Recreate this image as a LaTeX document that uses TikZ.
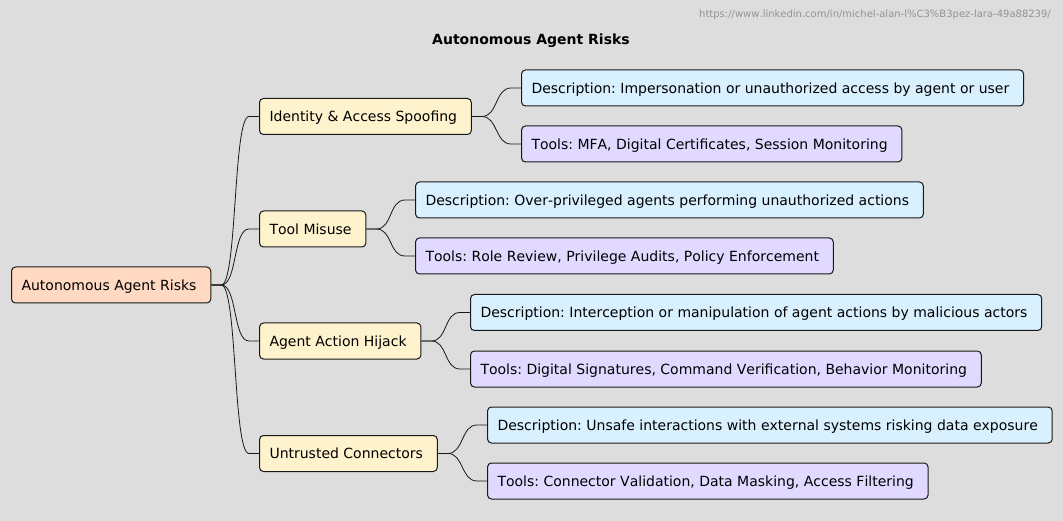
\documentclass[tikz,border=0pt]{standalone}
\usepackage{fontspec}
\setmainfont[Kerning=Off]{DejaVu Sans}
\usetikzlibrary{calc}
\definecolor{bg}{HTML}{DDDDDD}
\definecolor{rootc}{HTML}{FFD9C2}
\definecolor{lonec}{HTML}{FFF3CD}
\definecolor{descc}{HTML}{D9F0FF}
\definecolor{toolc}{HTML}{E1D9FF}
\definecolor{linec}{HTML}{181818}
\tikzset{
  box/.style={draw=linec, line width=1pt, rounded corners=4pt, anchor=west,
    minimum height=36pt, inner xsep=10pt, inner ysep=0pt,
    text height=10.2pt, text depth=0pt,
    font=\fontsize{14}{16}\selectfont\frenchspacing, text=black,
    execute at end node={\hspace{4.3pt}}},
  rootbox/.style={box, fill=rootc},
  lonebox/.style={box, fill=lonec},
  descbox/.style={box, fill=descc},
  toolbox/.style={box, fill=toolc},
  conn/.style={draw=linec, line width=0.8pt},
}
\newcommand{\branch}[2]{%
  \draw[conn] (#1.east) -- ++(10,0) .. controls +(16,0) and ($(#2.west)+(-26,0)$) .. ($(#2.west)+(-10,0)$) -- (#2.west);}
\begin{document}
\begin{tikzpicture}[x=1pt,y=-1pt]
\fill[bg] (0,0) rectangle (1063,521);
\useasboundingbox (0,0) rectangle (1063,521);
\node[anchor=east, text=gray!85, font=\fontsize{10}{12}\selectfont, inner sep=0pt] (url) at (1051,15) {https://www.linkedin.com/in/michel-alan-l\%C3\%B3pez-lara-49a88239/};
\node[font=\fontsize{14}{16}\selectfont\bfseries, inner sep=0pt] (title) at (531,41) {Autonomous Agent Risks};

\node[rootbox] (root) at (11,285) {Autonomous Agent Risks};

\node[lonebox] (b1) at (259,116.5) {Identity \& Access Spoofing};
\node[lonebox] (b2) at (259,229) {Tool Misuse};
\node[lonebox] (b3) at (259,341) {Agent Action Hijack};
\node[lonebox] (b4) at (259,453.5) {Untrusted Connectors};

\node[descbox] (d1) at (521,88) {Description: Impersonation or unauthorized access by agent or user};
\node[toolbox] (t1) at (521,144) {Tools: MFA, Digital Certificates, Session Monitoring};
\node[descbox] (d2) at (415,200) {Description: Over-privileged agents performing unauthorized actions};
\node[toolbox] (t2) at (415,256) {Tools: Role Review, Privilege Audits, Policy Enforcement};
\node[descbox] (d3) at (470,312.5) {Description: Interception or manipulation of agent actions by malicious actors};
\node[toolbox] (t3) at (470,369) {Tools: Digital Signatures, Command Verification, Behavior Monitoring};
\node[descbox] (d4) at (487,425) {Description: Unsafe interactions with external systems risking data exposure};
\node[toolbox] (t4) at (487,481) {Tools: Connector Validation, Data Masking, Access Filtering};

\branch{root}{b1}\branch{root}{b2}\branch{root}{b3}\branch{root}{b4}
\branch{b1}{d1}\branch{b1}{t1}
\branch{b2}{d2}\branch{b2}{t2}
\branch{b3}{d3}\branch{b3}{t3}
\branch{b4}{d4}\branch{b4}{t4}
\end{tikzpicture}
\end{document}
